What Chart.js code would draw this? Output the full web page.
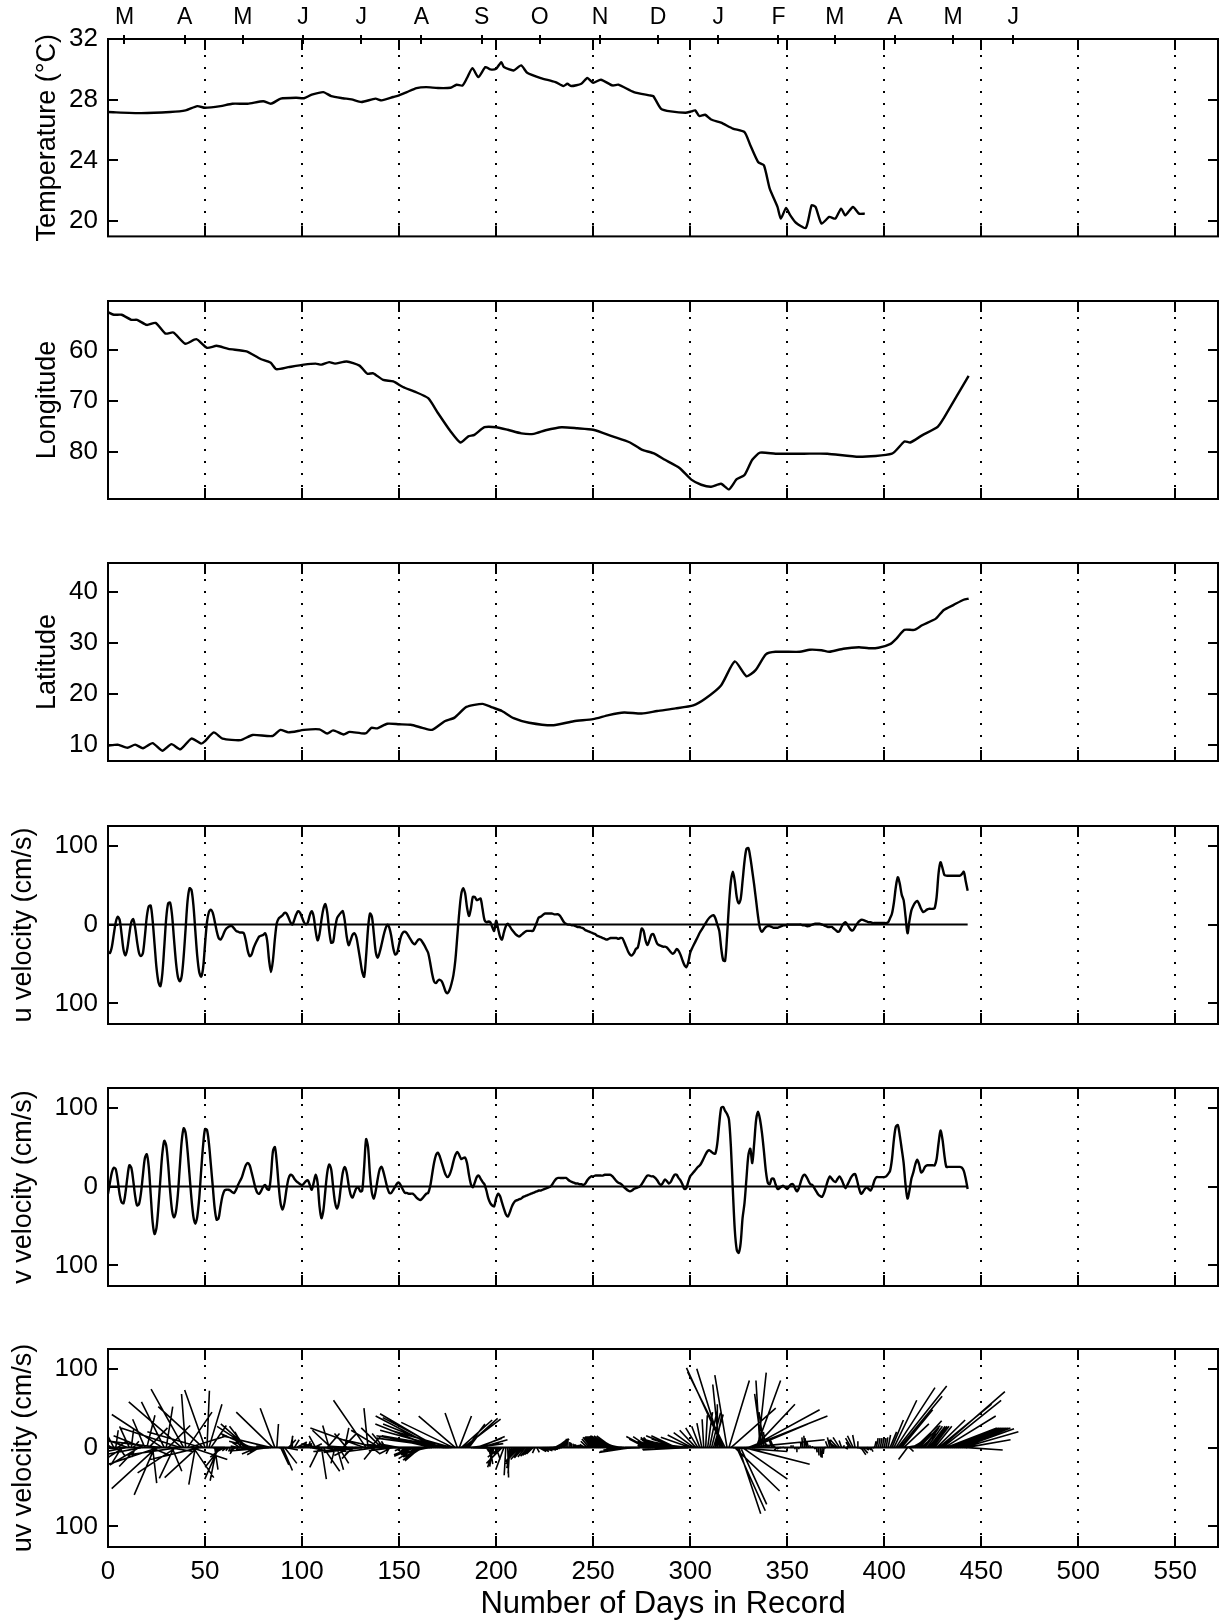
<!DOCTYPE html>
<html>
<head>
<meta charset="utf-8">
<title>Drifter record</title>
<script src="https://cdn.jsdelivr.net/npm/chart.js@4.4.1/dist/chart.umd.min.js"></script>
<style>
  html, body { margin: 0; padding: 0; background: #fff; }
  #page { position: relative; width: 1225px; height: 1623px; overflow: hidden; background: #fff; }
  #page canvas { position: absolute; left: 0; }
</style>
</head>
<body>
<div id="page">
  <canvas id="cTemp" width="1225" height="262" style="top:0px"></canvas>
  <canvas id="cLon" width="1225" height="258" style="top:271px"></canvas>
  <canvas id="cLat" width="1225" height="258" style="top:533px"></canvas>
  <canvas id="cU" width="1225" height="258" style="top:796px"></canvas>
  <canvas id="cV" width="1225" height="258" style="top:1058px"></canvas>
  <canvas id="cUV" width="1225" height="304" style="top:1319px"></canvas>
</div>
<script>
// axes
const X_MAX = 572;
const X_TICKS = [0, 50, 100, 150, 200, 250, 300, 350, 400, 450, 500, 550];
const MONTH_DAYS = [8.5, 39.5, 69.5, 100.5, 130.5, 161.5, 192.5, 222.5, 253.5, 283.5, 314.5, 345.5, 374.5, 405.5, 435.5, 466.5];
const MONTH_LABELS = ['M', 'A', 'M', 'J', 'J', 'A', 'S', 'O', 'N', 'D', 'J', 'F', 'M', 'A', 'M', 'J'];

// temperature (°C)
const TEMP_DAYS = [0, 17, 32, 40, 46, 50, 58, 64, 72, 80, 84, 89, 97, 101, 105, 111, 115, 121, 125.5, 130.6,
  137.8, 141, 147, 150, 154, 159, 164, 170, 176.5, 179.6, 182.7, 185, 187.8, 190.8, 194.5, 197, 200, 202.7, 204, 209,
  212.9, 216, 223, 230.6, 234.7, 236.7, 238.8, 243.9, 247, 250, 254, 260, 263, 271, 279, 281, 285, 290, 297.6, 300.6,
  302.6, 304.7, 307.7, 310.8, 315.9, 322, 328, 331, 335, 338, 341, 345, 346.7, 349.4, 351.4, 354.5, 359.6, 362.6, 364.6, 367.7,
  371.7, 374.8, 377.8, 379.9, 383.9, 387, 390];
const TEMP = [27.19, 27.12, 27.19, 27.3, 27.58, 27.47, 27.58, 27.74, 27.74, 27.9, 27.74, 28.07, 28.13, 28.1, 28.33, 28.5, 28.24, 28.1, 28.02, 27.85,
  28.07, 27.96, 28.18, 28.29, 28.5, 28.77, 28.83, 28.77, 28.79, 28.99, 28.94, 29.43, 30.08, 29.49, 30.15, 30.0, 30.04, 30.48, 30.15, 29.93,
  30.26, 29.78, 29.43, 29.16, 28.9, 29.05, 28.9, 29.05, 29.43, 29.12, 29.32, 28.94, 28.99, 28.5, 28.29, 28.24, 27.4, 27.23, 27.14, 27.23,
  27.3, 26.93, 27.01, 26.7, 26.49, 26.1, 25.87, 25.0, 23.9, 23.68, 22.14, 20.94, 20.17, 20.87, 20.43, 19.9, 19.56, 21.05, 20.94, 19.84,
  20.28, 20.17, 20.83, 20.39, 20.94, 20.5, 20.5];

// longitude (°W)
const LON_DAYS = [0, 3, 7, 12, 15, 20, 24.5, 29.6, 33.7, 39.8, 45.5, 51, 56, 62, 71.4, 78.6, 83.7, 86.7, 92.9, 101,
  107, 110, 114, 117, 123, 129.6, 133.7, 136.7, 141.8, 147, 152, 158, 165, 170, 176.5, 181.6, 185.7, 188.8, 194, 200,
  206, 213, 219.4, 225.5, 233.7, 241.8, 250, 260, 269, 275, 281, 287, 294.5, 300.6, 305.7, 310.8, 315.9, 320, 324, 328,
  332, 336, 344, 358.5, 370.7, 387, 404, 410.4, 413.4, 419.5, 427.6, 430.7, 443.5];
const LON = [52.5, 53.0, 53.0, 54.0, 54.0, 55.0, 54.6, 56.7, 56.5, 58.7, 57.8, 59.5, 59.1, 59.7, 60.2, 61.7, 62.4, 63.7, 63.3, 62.8,
  62.6, 62.8, 62.3, 62.6, 62.2, 63.0, 64.6, 64.5, 65.8, 66.1, 67.2, 68.1, 69.4, 72.3, 75.9, 78.1, 76.9, 76.6, 75.1, 75.1,
  75.6, 76.3, 76.4, 75.7, 75.1, 75.3, 75.6, 76.9, 78.1, 79.5, 80.2, 81.5, 83.1, 85.4, 86.4, 86.8, 86.2, 87.3, 85.3, 84.5,
  81.5, 80.1, 80.3, 80.3, 80.3, 80.9, 80.3, 77.9, 78.1, 76.7, 75.0, 73.3, 65.0];

// latitude (°N)
const LAT_DAYS = [0, 5, 10, 14, 18, 23, 28, 32.7, 37.3, 43, 48, 50, 54.5, 59, 68.4, 74.5, 84.7, 88.8, 93, 101,
  109, 113, 116, 121.4, 124.5, 132.7, 135.7, 138.8, 143.9, 150, 156, 162, 167, 173.5, 178.6, 184.7, 193, 198, 203, 209,
  217, 229.6, 240, 250, 258, 266, 275, 283, 292.5, 301.6, 307.7, 315.9, 323, 329, 333.7, 339, 344, 356.5, 361.6, 367.7,
  371.7, 378.9, 387, 392, 397, 403, 406.3, 410.4, 415.5, 419.5, 426.6, 430.7, 435.8, 440.9, 443.5];
const LAT = [9.9, 10.1, 9.5, 10.1, 9.4, 10.4, 8.9, 10.2, 9.2, 11.3, 10.3, 10.8, 12.5, 11.3, 11.0, 12.0, 11.8, 13.0, 12.5, 13.0,
  13.1, 12.3, 12.9, 12.1, 12.6, 12.3, 13.4, 13.3, 14.2, 14.1, 14.0, 13.4, 13.0, 14.7, 15.4, 17.5, 18.1, 17.4, 16.7, 15.3,
  14.4, 13.9, 14.7, 15.1, 15.9, 16.4, 16.2, 16.7, 17.2, 17.8, 19.1, 21.7, 26.4, 23.5, 24.7, 27.8, 28.3, 28.3, 28.7, 28.6,
  28.3, 28.9, 29.2, 29.0, 29.1, 29.8, 30.9, 32.6, 32.6, 33.5, 34.8, 36.5, 37.5, 38.5, 38.7];

// daily velocities (cm/s), day 0 .. 443
const VEL_DAYS = Array.from({ length: 444 }, (_, i) => i);
const U_VEL = [
  -35, -36, -28, -12, 3, 10, 6, -12, -32, -39,
  -30, -12, 3, 7, -4, -22, -36, -40, -36, -15,
  10, 23, 24, 5, -25, -55, -73, -78, -62, -28,
  8, 27, 28, 12, -18, -47, -66, -72, -65, -40,
  -5, 30, 46, 44, 25, -8, -40, -60, -66, -55,
  -25, 3, 16, 19, 15, 4, -8, -17, -19, -15,
  -9, -5, -3, -2, -2, -5, -8, -9, -10, -10,
  -11, -20, -33, -40, -38, -30, -24, -19, -15, -14,
  -13, -11, -20, -45, -60, -45, -18, 2, 8, 10,
  12, 15, 14, 9, 3, 0, 6, 13, 17, 15,
  9, 3, 0, 3, 12, 17, 10, -8, -20, -12,
  6, 20, 26, 15, -8, -23, -22, -5, 8, 12,
  15, 17, 5, -15, -26, -20, -13, -11, -16, -30,
  -45, -60, -66, -40, -5, 14, 10, -12, -35, -42,
  -35, -25, -14, -5, 0, -4, -15, -30, -38, -36,
  -25, -15, -10, -9, -11, -15, -19, -23, -25, -22,
  -19, -19, -22, -26, -31, -36, -48, -62, -72, -74,
  -71, -70, -72, -78, -85, -87, -83, -75, -64, -45,
  -15, 15, 38, 46, 40, 22, 11, 20, 35, 35,
  31, 32, 33, 20, 6, 3, 4, 3, -3, -8,
  5, -5, -15, -19, -10, -2, 1, -2, -6, -9,
  -12, -14, -15, -13, -11, -9, -8, -8, -8, -8,
  -3, 3, 9, 10, 12, 14, 14, 14, 14, 14,
  13, 13, 13, 11, 7, 3, 1, 0, 0, -1,
  -1, -2, -3, -3, -4, -5, -7, -8, -9, -10,
  -11, -12, -14, -15, -16, -17, -18, -19, -18, -17,
  -17, -17, -17, -18, -17, -17, -22, -28, -34, -38,
  -39, -36, -31, -29, -18, -5, -8, -20, -26, -20,
  -13, -12, -18, -24, -26, -27, -28, -28, -29, -32,
  -35, -37, -35, -31, -33, -38, -45, -51, -54, -48,
  -36, -30, -25, -20, -15, -10, -6, -2, 2, 6,
  9, 11, 12, 8, 0, -8, -30, -45, -46, -15,
  25, 55, 67, 55, 35, 27, 32, 55, 80, 96,
  97, 85, 68, 50, 30, 10, -5, -9, -6, -3,
  -2, -2, -3, -4, -4, -4, -3, -2, -1, -1,
  0, 0, 0, 0, 0, 0, 0, 0, -1, -1,
  -2, -2, -1, 0, 1, 1, 1, 1, 0, -1,
  -2, -3, -3, -3, -5, -7, -9, -8, -3, 1,
  3, 0, -4, -7, -7, -3, 1, 4, 6, 6,
  5, 4, 3, 3, 2, 2, 2, 2, 2, 2,
  2, 2, 3, 8, 14, 28, 48, 60, 52, 38,
  31, 10, -11, 5, 18, 24, 28, 30, 26, 20,
  16, 17, 19, 20, 20, 20, 21, 35, 65, 79,
  72, 63, 62, 62, 62, 62, 62, 62, 62, 62,
  64, 67, 55, 43];
const V_VEL = [
  -9, 5, 18, 24, 22, 8, -10, -20, -21, -8,
  12, 27, 24, 8, -12, -24, -22, -8, 15, 36,
  41, 25, -10, -45, -60, -52, -25, 10, 42, 58,
  52, 28, -5, -30, -39, -32, -10, 25, 58, 74,
  68, 45, 15, -15, -38, -47, -38, -15, 20, 52,
  73, 72, 55, 28, 0, -28, -42, -40, -25, -12,
  -5, -4, -4, -5, -7, -8, -4, 2, 7, 12,
  20, 27, 30, 27, 18, 8, -2, -8, -9, -5,
  0, 2, -3, -4, 15, 45, 50, 30, 0, -22,
  -29, -20, -3, 10, 15, 14, 10, 7, 5, 3,
  2, 4, 7, 8, 2, -4, 5, 15, 5, -25,
  -40, -30, -5, 18, 28, 22, 0, -20, -28, -20,
  0, 18, 25, 18, 2, -10, -14, -8, -2, -1,
  -6, -5, 25, 60, 50, 15, -8, -15, -5, 10,
  22, 25, 18, 8, -2, -8, -8, -4, 0, 4,
  5, 1, -4, -8, -8, -9, -9, -9, -11, -14,
  -16, -17, -15, -12, -9, -8, 0, 15, 30, 40,
  43, 38, 30, 22, 15, 12, 15, 22, 32, 40,
  44, 40, 35, 36, 37, 30, 15, 3, -1, 5,
  12, 14, 10, 6, 3, -5, -15, -21, -24, -25,
  -15, -9, -12, -20, -28, -35, -38, -33, -26, -21,
  -18, -17, -16, -15, -13, -12, -11, -10, -9, -8,
  -7, -6, -5, -5, -4, -3, -2, -1, 0, 3,
  7, 10, 11, 11, 11, 11, 11, 9, 7, 6,
  5, 4, 4, 3, 3, 2, 4, 8, 11, 13,
  13, 14, 14, 14, 14, 14, 15, 15, 15, 15,
  13, 10, 7, 5, 4, 2, -1, -3, -5, -6,
  -5, -3, -2, -1, 0, 3, 7, 11, 14, 14,
  13, 13, 11, 8, 4, 2, 5, 9, 7, 4,
  6, 11, 15, 15, 11, 8, 3, -3, -2, 6,
  13, 16, 19, 22, 25, 27, 31, 36, 41, 45,
  46, 44, 42, 42, 55, 80, 100, 101, 96, 92,
  85, 50, -5, -55, -80, -84, -72, -40, -21, 10,
  40, 48, 30, 55, 85, 95, 85, 68, 45, 20,
  5, 3, 10, 10, 3, -3, -2, 0, 1, -1,
  -3, 0, 3, 3, -2, -6, -2, 6, 13, 15,
  12, 7, 3, 2, -2, -6, -10, -12, -13, -8,
  0, 8, 13, 10, 7, 6, 10, 13, 9, 3,
  -2, 2, 7, 12, 15, 16, 8, -2, -9, -7,
  -3, -1, -3, -5, 0, 8, 12, 12, 12, 12,
  12, 13, 16, 20, 35, 60, 76, 78, 65, 48,
  30, 2, -15, -5, 10, 18, 28, 34, 28, 18,
  20, 25, 27, 27, 27, 27, 27, 35, 55, 71,
  60, 40, 25, 25, 25, 25, 25, 25, 25, 25,
  24, 20, 10, -3];

// feather plot: days of x-offset per cm/s of u
const STICK_SCALE = 0.42;

const FONT = '"Liberation Sans", Arial, Helvetica, sans-serif';
const INK = '#000';

// dotted grid, frame and inward tick marks (matlab style)
const framePlugin = {
  id: 'frame',
  beforeDatasetsDraw(chart) {
    const { ctx, chartArea: a } = chart;
    const x = chart.scales.x;
    ctx.save();
    ctx.strokeStyle = INK;
    ctx.lineWidth = 2;
    ctx.setLineDash([2, 10]);
    X_TICKS.slice(1).forEach(d => {
      const px = Math.round(x.getPixelForValue(d));
      ctx.beginPath();
      ctx.moveTo(px, a.top + 4);
      ctx.lineTo(px, a.bottom);
      ctx.stroke();
    });
    ctx.restore();
  },
  afterDraw(chart) {
    const { ctx, chartArea: a } = chart;
    const x = chart.scales.x, y = chart.scales.y;
    ctx.save();
    ctx.strokeStyle = INK;
    ctx.lineWidth = 2;
    ctx.strokeRect(a.left, a.top, a.right - a.left, a.bottom - a.top);
    ctx.beginPath();
    X_TICKS.forEach(d => {
      const px = Math.round(x.getPixelForValue(d));
      ctx.moveTo(px, a.top); ctx.lineTo(px, a.top + 11);
      ctx.moveTo(px, a.bottom); ctx.lineTo(px, a.bottom - 11);
    });
    y.ticks.forEach(t => {
      const py = Math.round(y.getPixelForValue(t.value));
      ctx.moveTo(a.left, py); ctx.lineTo(a.left + 10, py);
      ctx.moveTo(a.right, py); ctx.lineTo(a.right - 10, py);
    });
    if (chart.scales.months) {
      const m = chart.scales.months;
      MONTH_DAYS.forEach(d => {
        const px = Math.round(m.getPixelForValue(d));
        ctx.moveTo(px, a.top - 4); ctx.lineTo(px, a.top + 5);
      });
    }
    ctx.stroke();
    ctx.restore();
  }
};

function series(days, vals, extra) {
  return Object.assign({
    data: days.map((d, i) => ({ x: d, y: vals[i] })),
    borderColor: INK,
    borderWidth: 2.4,
    pointRadius: 0,
    fill: false,
    tension: 0.2
  }, extra || {});
}

function zeroLine() {
  return series([0, 443], [0, 0], { tension: 0, borderWidth: 2 });
}

function buildPanel(id, o) {
  const scales = {
    x: {
      type: 'linear', min: 0, max: X_MAX, position: 'bottom',
      display: !!o.bottomAxis,
      afterBuildTicks: s => { s.ticks = X_TICKS.map(v => ({ value: v })); },
      afterFit: s => { if (o.bottomAxis) s.height = o.bottomAxis; },
      grid: { display: false, drawTicks: false },
      border: { display: false },
      ticks: { color: INK, font: { family: FONT, size: 26 }, padding: 9, maxRotation: 0, autoSkip: false },
      title: {
        display: true, text: 'Number of Days in Record', color: INK,
        font: { family: FONT, size: 31 }, padding: { top: 0, bottom: 0 }
      }
    },
    y: {
      type: 'linear', min: o.yMin, max: o.yMax, reverse: !!o.reverse,
      afterBuildTicks: s => { s.ticks = o.yTicks.map(v => ({ value: v })); },
      afterFit: s => { s.width = 108; },
      grid: { display: false, drawTicks: false },
      border: { display: false },
      ticks: {
        color: INK, font: { family: FONT, size: 26 }, padding: 10,
        callback: v => String(Math.abs(v))
      },
      title: {
        display: true, text: o.title, color: INK,
        font: { family: FONT, size: 27 }, padding: { top: o.titlePad, bottom: 0 }
      }
    }
  };
  if (o.monthAxis) {
    scales.months = {
      type: 'linear', min: 0, max: X_MAX, position: 'top',
      afterBuildTicks: s => { s.ticks = MONTH_DAYS.map(v => ({ value: v })); },
      afterFit: s => { s.height = o.monthAxis; },
      grid: { display: false, drawTicks: false },
      border: { display: false },
      ticks: {
        color: INK, font: { family: FONT, size: 23 }, padding: 8, maxRotation: 0, autoSkip: false,
        callback: (v, i) => MONTH_LABELS[i]
      }
    };
  }
  return new Chart(document.getElementById(id), {
    type: 'line',
    data: { datasets: o.datasets },
    options: {
      responsive: false,
      animation: false,
      events: [],
      layout: { padding: { left: 0, right: 7, top: o.padTop, bottom: o.padBottom } },
      plugins: { legend: { display: false }, tooltip: { enabled: false } },
      scales: scales
    },
    plugins: [framePlugin]
  });
}

// sticks from (day, 0) to (day + k*u, v), split by gaps
const sticks = [];
VEL_DAYS.forEach((d, i) => {
  sticks.push({ x: d, y: 0 }, { x: d + STICK_SCALE * U_VEL[i], y: V_VEL[i] }, { x: d, y: null });
});

buildPanel('cTemp', {
  title: 'Temperature (°C)', titlePad: 31,
  yMin: 19, yMax: 32, yTicks: [20, 24, 28, 32],
  padTop: 0, padBottom: 25, monthAxis: 39,
  datasets: [series(TEMP_DAYS, TEMP)]
});
buildPanel('cLon', {
  title: 'Longitude', titlePad: 31,
  yMin: 50.3, yMax: 89.2, reverse: true, yTicks: [60, 70, 80],
  padTop: 30, padBottom: 30,
  datasets: [series(LON_DAYS, LON)]
});
buildPanel('cLat', {
  title: 'Latitude', titlePad: 31,
  yMin: 6.9, yMax: 45.7, yTicks: [10, 20, 30, 40],
  padTop: 30, padBottom: 30,
  datasets: [series(LAT_DAYS, LAT)]
});
buildPanel('cU', {
  title: 'u velocity (cm/s)', titlePad: 7,
  yMin: -126, yMax: 125, yTicks: [-100, 0, 100],
  padTop: 30, padBottom: 30,
  datasets: [zeroLine(), series(VEL_DAYS, U_VEL, { tension: 0.3 })]
});
buildPanel('cV', {
  title: 'v velocity (cm/s)', titlePad: 7,
  yMin: -126, yMax: 125, yTicks: [-100, 0, 100],
  padTop: 30, padBottom: 30,
  datasets: [zeroLine(), series(VEL_DAYS, V_VEL, { tension: 0.3 })]
});
buildPanel('cUV', {
  title: 'uv velocity (cm/s)', titlePad: 7,
  yMin: -126, yMax: 125, yTicks: [-100, 0, 100],
  padTop: 30, padBottom: 0, bottomAxis: 76,
  datasets: [
    zeroLine(),
    { data: sticks, borderColor: INK, borderWidth: 1.6, pointRadius: 0, fill: false, tension: 0, spanGaps: false }
  ]
});
</script>
</body>
</html>
